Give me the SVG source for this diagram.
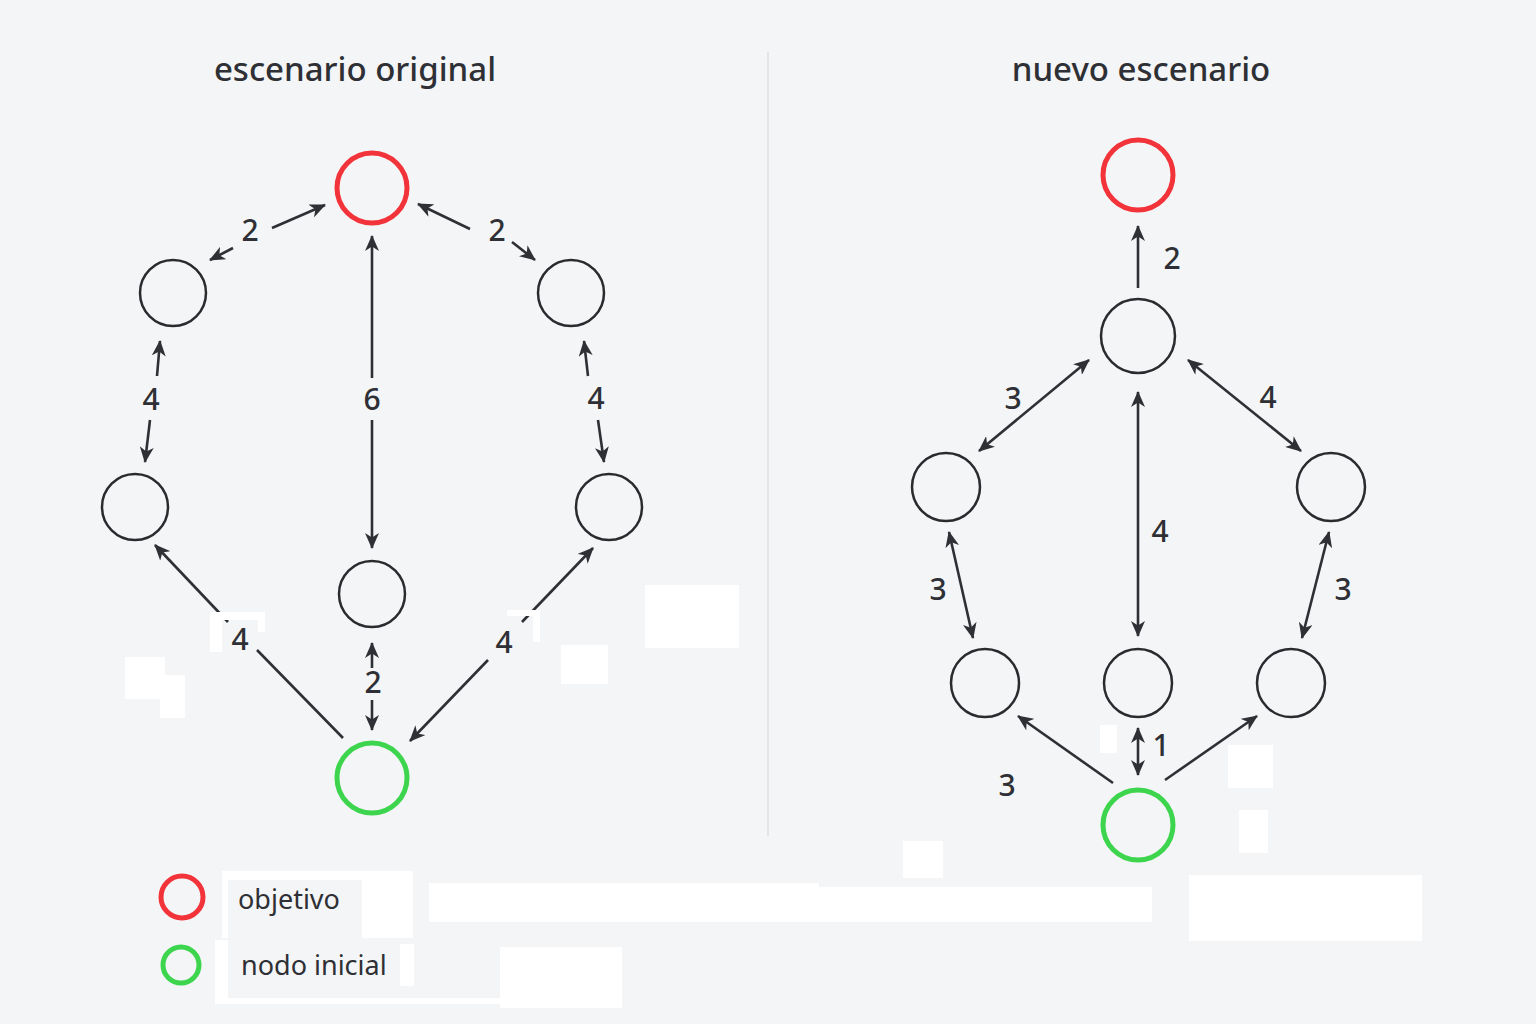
<svg xmlns="http://www.w3.org/2000/svg" width="1536" height="1024" viewBox="0 0 1536 1024">
<defs>
<marker id="ah" viewBox="0 0 16 14" refX="15" refY="7" markerWidth="16" markerHeight="14" markerUnits="userSpaceOnUse" orient="auto-start-reverse">
<path d="M0,0 L16,7 L0,14 L4.5,7 z" fill="#2e3035"/>
</marker>
<style>
.bg{fill:#f4f5f6}
.title{font-family:"Noto Sans","Open Sans",sans-serif;font-size:33px;font-weight:500;fill:#2e3035;text-anchor:middle}
.lbl{font-family:"Noto Sans","Open Sans",sans-serif;font-size:30px;font-weight:500;fill:#2e3035;text-anchor:middle}
.leg{font-family:"Noto Sans","Open Sans",sans-serif;font-size:27px;fill:#2e3035}
.n{fill:none;stroke:#2a2b2f;stroke-width:2.5}
.goal{fill:none;stroke:#f2333a;stroke-width:5}
.start{fill:none;stroke:#3dd54e;stroke-width:5}
.e{stroke:#2e3035;stroke-width:2.6;fill:none}
.ee{marker-end:url(#ah)}
.eb{marker-start:url(#ah);marker-end:url(#ah)}
.patch{fill:#ffffff}
.div{stroke:#dedfe1;stroke-width:1.5}
</style>
</defs>
<rect class="bg" x="0" y="0" width="1536" height="1024"/>
<line class="div" x1="768" y1="52" x2="768" y2="836"/>
<text class="title" x="355" y="81">escenario original</text>
<text class="title" x="1141" y="81">nuevo escenario</text>

<g id="connectors">
<line class="e ee" x1="233" y1="248" x2="210" y2="260"/>
<line class="e ee" x1="272" y1="228" x2="325" y2="205"/>
<line class="e ee" x1="470" y1="229" x2="418" y2="204"/>
<line class="e ee" x1="512" y1="242" x2="535" y2="260"/>
<line class="e ee" x1="157" y1="376" x2="160" y2="341"/>
<line class="e ee" x1="150" y1="420" x2="145" y2="462"/>
<line class="e ee" x1="588" y1="376" x2="584" y2="341"/>
<line class="e ee" x1="598" y1="420" x2="604" y2="462"/>
<line class="e ee" x1="372" y1="378" x2="372" y2="236"/>
<line class="e ee" x1="372" y1="420" x2="372" y2="548"/>
<line class="e" x1="343" y1="738" x2="257" y2="650"/>
<line class="e ee" x1="228" y1="622" x2="155" y2="545"/>
<line class="e ee" x1="488" y1="660" x2="410" y2="741"/>
<line class="e ee" x1="522" y1="622" x2="593" y2="548"/>
<line class="e ee" x1="372" y1="668" x2="372" y2="643"/>
<line class="e ee" x1="372" y1="700" x2="372" y2="730"/>

<line class="e ee" x1="1138" y1="288" x2="1138" y2="226"/>
<line class="e eb" x1="1089" y1="360" x2="979" y2="451"/>
<line class="e eb" x1="1188" y1="360" x2="1301" y2="451"/>
<line class="e eb" x1="1138" y1="392" x2="1138" y2="636"/>
<line class="e eb" x1="949" y1="532" x2="973" y2="638"/>
<line class="e eb" x1="1329" y1="532" x2="1302" y2="638"/>
<line class="e ee" x1="1113" y1="783" x2="1018" y2="716"/>
<line class="e ee" x1="1165" y1="780" x2="1257" y2="716"/>
<line class="e eb" x1="1138" y1="728" x2="1138" y2="775"/>
</g>

<g id="edge-labels">
<text class="lbl" x="250" y="241">2</text>
<text class="lbl" x="497" y="241">2</text>
<text class="lbl" x="151" y="410">4</text>
<text class="lbl" x="372" y="410">6</text>
<text class="lbl" x="596" y="409">4</text>
<text class="lbl" x="240" y="650">4</text>
<text class="lbl" x="504" y="653">4</text>
<text class="lbl" x="373" y="693">2</text>
<text class="lbl" x="1172" y="269">2</text>
<text class="lbl" x="1013" y="409">3</text>
<text class="lbl" x="1268" y="408">4</text>
<text class="lbl" x="1160" y="542">4</text>
<text class="lbl" x="938" y="600">3</text>
<text class="lbl" x="1343" y="600">3</text>
<text class="lbl" x="1007" y="796">3</text>
<text class="lbl" x="1161" y="756">1</text>
</g>

<g id="L-goal"><circle class="goal" cx="372" cy="188" r="35"/></g>
<g id="L-upleft"><circle class="n" cx="173" cy="293" r="33"/></g>
<g id="L-upright"><circle class="n" cx="571" cy="293" r="33"/></g>
<g id="L-lowleft"><circle class="n" cx="135" cy="507" r="33"/></g>
<g id="L-lowright"><circle class="n" cx="609" cy="507" r="33"/></g>
<g id="L-mid"><circle class="n" cx="372" cy="594" r="33"/></g>
<g id="L-start"><circle class="start" cx="372" cy="778" r="35"/></g>

<g id="R-goal"><circle class="goal" cx="1138" cy="175" r="35"/></g>
<g id="R-hub"><circle class="n" cx="1138" cy="336" r="37"/></g>
<g id="R-midleft"><circle class="n" cx="946" cy="487" r="34"/></g>
<g id="R-midright"><circle class="n" cx="1331" cy="487" r="34"/></g>
<g id="R-botleft"><circle class="n" cx="985" cy="683" r="34"/></g>
<g id="R-botmid"><circle class="n" cx="1138" cy="683" r="34"/></g>
<g id="R-botright"><circle class="n" cx="1291" cy="683" r="34"/></g>
<g id="R-start"><circle class="start" cx="1138" cy="825" r="35"/></g>

<g id="patches">
<rect class="patch" x="645" y="585" width="94" height="63"/>
<rect class="patch" x="561" y="645" width="47" height="39"/>
<rect class="patch" x="125" y="657" width="40" height="42"/>
<rect class="patch" x="160" y="675" width="25" height="43"/>
<rect class="patch" x="210" y="612" width="12" height="40"/>
<rect class="patch" x="222" y="612" width="43" height="8"/>
<rect class="patch" x="258" y="612" width="7" height="20"/>
<rect class="patch" x="507" y="610" width="33" height="6"/>
<rect class="patch" x="533" y="610" width="7" height="32"/>
<rect class="patch" x="1100" y="725" width="17" height="28"/>
<rect class="patch" x="1228" y="745" width="45" height="43"/>
<rect class="patch" x="1239" y="810" width="29" height="43"/>
<rect class="patch" x="903" y="841" width="40" height="37"/>
<rect class="patch" x="1189" y="875" width="233" height="66"/>
<rect class="patch" x="429" y="883" width="390" height="39"/>
<rect class="patch" x="800" y="887" width="352" height="35"/>
<rect class="patch" x="222" y="871" width="191" height="9"/>
<rect class="patch" x="362" y="871" width="51" height="67"/>
<rect class="patch" x="222" y="871" width="6" height="67"/>
<rect class="patch" x="215" y="940" width="13" height="63"/>
<rect class="patch" x="215" y="998" width="285" height="6"/>
<rect class="patch" x="400" y="944" width="14" height="42"/>
<rect class="patch" x="500" y="947" width="122" height="61"/>
</g>

<g id="legend">
<g id="leg-goal"><circle cx="182" cy="897" r="21" fill="none" stroke="#f2333a" stroke-width="5"/><text class="leg" x="238" y="909">objetivo</text></g>
<g id="leg-start"><circle cx="181" cy="965" r="18" fill="none" stroke="#3dd54e" stroke-width="5"/><text class="leg" x="241" y="975">nodo inicial</text></g>
</g>
</svg>
